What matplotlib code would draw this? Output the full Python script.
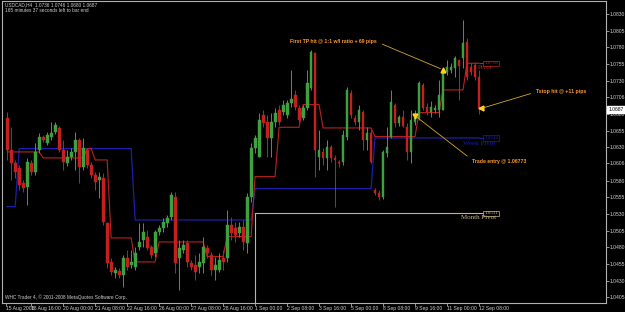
import numpy as np
import matplotlib
matplotlib.use("Agg")
import matplotlib.pyplot as plt
import matplotlib.transforms as mtransforms

# USDCAD H4 candles
opens = [1.0674, 1.0626, 1.0606, 1.0599, 1.0576, 1.0570, 1.0606, 1.0593, 1.0626, 1.0645,
         1.0636, 1.0645, 1.0653, 1.0659, 1.0626, 1.0606, 1.0615, 1.0623, 1.0641, 1.0600,
         1.0626, 1.0603, 1.0588, 1.0581, 1.0584, 1.0516, 1.0458, 1.0441, 1.0444, 1.0438,
         1.0464, 1.0453, 1.0450, 1.0480, 1.0491, 1.0495, 1.0480, 1.0471, 1.0503, 1.0509,
         1.0516, 1.0525, 1.0555, 1.0464, 1.0476, 1.0486, 1.0456, 1.0453, 1.0450, 1.0456,
         1.0479, 1.0468, 1.0446, 1.0446, 1.0464, 1.0464, 1.0513, 1.0509, 1.0502, 1.0510,
         1.0486, 1.0555, 1.0629, 1.0615, 1.0678, 1.0668, 1.0644, 1.0668, 1.0686, 1.0683,
         1.0678, 1.0696, 1.0708, 1.0689, 1.0674, 1.0689, 1.0719, 1.0771, 1.0615, 1.0623,
         1.0614, 1.0630, 1.0614, 1.0608, 1.0608, 1.0645, 1.0711, 1.0674, 1.0668, 1.0683,
         1.0641, 1.0651, 1.0566, 1.0561, 1.0555, 1.0621, 1.0645, 1.0693, 1.0666, 1.0675,
         1.0660, 1.0623, 1.0668, 1.0674, 1.0723, 1.0690, 1.0683, 1.0686, 1.0686, 1.0686,
         1.0743, 1.0746, 1.0749, 1.0761, 1.0764, 1.0788, 1.0750, 1.0753, 1.0736]
highs = [1.0683, 1.0660, 1.0611, 1.0603, 1.0581, 1.0614, 1.0611, 1.0636, 1.0651, 1.0648,
         1.0653, 1.0668, 1.0668, 1.0662, 1.0641, 1.0626, 1.0629, 1.0653, 1.0644, 1.0644,
         1.0629, 1.0608, 1.0593, 1.0593, 1.0591, 1.0518, 1.0464, 1.0450, 1.0449, 1.0468,
         1.0476, 1.0476, 1.0480, 1.0516, 1.0516, 1.0506, 1.0483, 1.0506, 1.0513, 1.0524,
         1.0528, 1.0563, 1.0563, 1.0491, 1.0491, 1.0491, 1.0461, 1.0468, 1.0471, 1.0495,
         1.0483, 1.0473, 1.0465, 1.0471, 1.0476, 1.0536, 1.0525, 1.0518, 1.0518, 1.0521,
         1.0561, 1.0636, 1.0648, 1.0681, 1.0686, 1.0678, 1.0681, 1.0689, 1.0693, 1.0701,
         1.0701, 1.0746, 1.0716, 1.0693, 1.0693, 1.0746, 1.0776, 1.0773, 1.0656, 1.0629,
         1.0641, 1.0633, 1.0618, 1.0611, 1.0656, 1.0720, 1.0716, 1.0678, 1.0693, 1.0686,
         1.0660, 1.0656, 1.0569, 1.0566, 1.0626, 1.0660, 1.0716, 1.0696, 1.0678, 1.0686,
         1.0666, 1.0686, 1.0686, 1.0729, 1.0726, 1.0696, 1.0699, 1.0693, 1.0731, 1.0750,
         1.0761, 1.0756, 1.0767, 1.0761, 1.0821, 1.0794, 1.0756, 1.0758, 1.0746]
lows = [1.0611, 1.0581, 1.0584, 1.0566, 1.0563, 1.0543, 1.0588, 1.0588, 1.0621, 1.0638,
        1.0633, 1.0641, 1.0650, 1.0623, 1.0596, 1.0602, 1.0611, 1.0596, 1.0576, 1.0596,
        1.0599, 1.0584, 1.0566, 1.0554, 1.0513, 1.0449, 1.0438, 1.0434, 1.0434, 1.0420,
        1.0446, 1.0449, 1.0446, 1.0476, 1.0480, 1.0476, 1.0464, 1.0465, 1.0498, 1.0503,
        1.0510, 1.0521, 1.0441, 1.0416, 1.0471, 1.0450, 1.0446, 1.0431, 1.0441, 1.0441,
        1.0464, 1.0438, 1.0431, 1.0443, 1.0446, 1.0458, 1.0491, 1.0488, 1.0495, 1.0476,
        1.0471, 1.0548, 1.0621, 1.0615, 1.0660, 1.0615, 1.0615, 1.0660, 1.0663, 1.0678,
        1.0674, 1.0690, 1.0686, 1.0666, 1.0671, 1.0686, 1.0716, 1.0585, 1.0596, 1.0603,
        1.0596, 1.0608, 1.0540, 1.0600, 1.0603, 1.0641, 1.0674, 1.0663, 1.0656, 1.0626,
        1.0626, 1.0606, 1.0558, 1.0551, 1.0552, 1.0615, 1.0644, 1.0660, 1.0662, 1.0660,
        1.0611, 1.0606, 1.0663, 1.0671, 1.0686, 1.0678, 1.0675, 1.0681, 1.0675, 1.0686,
        1.0738, 1.0741, 1.0735, 1.0701, 1.0749, 1.0731, 1.0738, 1.0731, 1.0680]
closes = [1.0626, 1.0606, 1.0593, 1.0573, 1.0569, 1.0608, 1.0593, 1.0623, 1.0645, 1.0641,
          1.0648, 1.0651, 1.0663, 1.0626, 1.0608, 1.0615, 1.0623, 1.0641, 1.0600, 1.0629,
          1.0603, 1.0588, 1.0578, 1.0585, 1.0518, 1.0456, 1.0443, 1.0446, 1.0438, 1.0464,
          1.0450, 1.0458, 1.0471, 1.0488, 1.0503, 1.0479, 1.0468, 1.0503, 1.0509, 1.0518,
          1.0524, 1.0558, 1.0456, 1.0479, 1.0483, 1.0458, 1.0450, 1.0443, 1.0458, 1.0480,
          1.0471, 1.0446, 1.0453, 1.0461, 1.0458, 1.0513, 1.0502, 1.0498, 1.0510, 1.0488,
          1.0555, 1.0629, 1.0644, 1.0671, 1.0666, 1.0644, 1.0668, 1.0681, 1.0668, 1.0693,
          1.0696, 1.0702, 1.0690, 1.0671, 1.0689, 1.0726, 1.0773, 1.0626, 1.0626, 1.0614,
          1.0630, 1.0614, 1.0611, 1.0606, 1.0648, 1.0716, 1.0678, 1.0668, 1.0686, 1.0641,
          1.0651, 1.0608, 1.0561, 1.0555, 1.0623, 1.0630, 1.0698, 1.0666, 1.0675, 1.0662,
          1.0623, 1.0671, 1.0674, 1.0726, 1.0689, 1.0683, 1.0690, 1.0689, 1.0708, 1.0746,
          1.0750, 1.0750, 1.0764, 1.0752, 1.0786, 1.0735, 1.0743, 1.0735, 1.0687]

# indicator lines as (bars, level) runs
red_runs = [(9, 1.0623), (11, 1.0614), (2, 1.0628), (4, 1.0611), (6, 1.0494), (6, 1.0458),
            (12, 1.0488), (5, 1.0466), (7, 1.0496), (6, 1.0586), (6, 1.0660), (5, 1.0694),
            (13, 1.0659), (11, 1.0646), (6, 1.0682), (6, 1.0716), (4, 1.0756)]
week_runs = [(3, 1.0541), (29, 1.0628), (30, 1.0521), (30, 1.0568), (27, 1.0644)]
month_runs = [(62, 1.0340), (57, 1.0531)]

price_ticks = [1.0830, 1.0805, 1.0780, 1.0755, 1.0730, 1.0706, 1.0680, 1.0655, 1.0630,
               1.0606, 1.0580, 1.0555, 1.0530, 1.0505, 1.0480, 1.0455, 1.0430, 1.0405]
date_tick_bars = [-0.4, 6, 14, 22, 30, 38, 46, 54, 62, 70, 78, 86, 94, 102, 110, 118]
date_labels = ["15 Aug 2008", "18 Aug 16:00", "20 Aug 00:00", "21 Aug 08:00", "22 Aug 16:00",
               "26 Aug 00:00", "27 Aug 08:00", "28 Aug 16:00", "1 Sep 00:00", "2 Sep 08:00",
               "3 Sep 16:00", "5 Sep 00:00", "8 Sep 08:00", "9 Sep 16:00", "11 Sep 00:00",
               "12 Sep 08:00"]

last_price = 1.0687
trade_marks = [(109, 1.07463, "^"), (102, 1.06773, "v"), (118.6, 1.06883, "<")]
notes = ["First TP hit @ 1:1 w/l ratio + 69 pips", "Tstop hit @ +11 pips", "Trade entry @ 1.06773"]
note_pos = [(70.8, 1.0788), (132.3, 1.0713), (116.3, 1.0608)]
note_rel = [(1, 0.5), (0, 0.5), (0, 0.9)]

GREEN = "#3FA03F"
RED = "#C42020"
LINE_RED = "#B82222"
BLUE = "#1E1EAA"
TAN = "#C8B48A"
TXT = "#D0D0D0"
ORANGE = "#FF9A2E"

plt.rcParams["font.family"] = ["Liberation Sans", "DejaVu Sans"]

fig = plt.figure(figsize=(6.25, 3.12), dpi=100, facecolor="black")
ax = fig.add_axes([0.0035, 0.029, 0.966, 0.968], facecolor="black")

o = np.array(opens); h = np.array(highs); l = np.array(lows); c = np.array(closes)
idx = np.arange(len(o))
cols = np.where(c >= o, GREEN, RED)

ax.vlines(idx, l, h, colors=cols, lw=0.7, zorder=3)
body = np.maximum(np.abs(c - o), 0.00008)
ax.bar(idx, body, bottom=np.minimum(o, c), width=0.72, color=cols,
       edgecolor=cols, lw=0.3, zorder=4)


def expand(runs):
    return np.concatenate([np.full(n, v) for n, v in runs])


red_line = expand(red_runs)
week_line = expand(week_runs)
month_line = expand(month_runs)
end = len(idx) + 0.2

ax.plot(idx, week_line, color=BLUE, lw=0.9, zorder=2)
ax.hlines(week_line[-1], idx[-1], end, color=BLUE, lw=0.9, zorder=2)
ax.plot(idx, red_line, color=LINE_RED, lw=0.8, zorder=2)
ax.hlines(red_line[-1], idx[-1], end, color=LINE_RED, lw=0.8, zorder=2)
ax.plot(idx, month_line, color=TAN, lw=0.8, drawstyle="steps-post", zorder=2)
ax.hlines(month_line[-1], idx[-1], end, color=TAN, lw=0.8, zorder=2)

# pivot labels
for val, col, name, nx, dy in [(red_line[-1], LINE_RED, "Pivot", 117.8, -0.0007),
                               (week_line[-1], BLUE, "Week Pivot", 114.0, -0.0008),
                               (month_line[-1], TAN, "Month Pivot", 113.5, -0.0006)]:
    ax.text(end + 0.1, val, f"{val:.4f}", color=col, fontsize=3.6, ha="left", va="center",
            family="Liberation Serif",
            bbox=dict(boxstyle="square,pad=0.15", fc="black", ec=col, lw=0.5), zorder=6)
    ax.text(nx, val + dy, name, color=col, fontsize=5, ha="left", va="center",
            family="Liberation Serif", zorder=6)

# trade markers and notes
for (bx, py, mk) in trade_marks:
    ax.plot(bx, py, marker=mk, color="#FFD21E", markersize=3.5, zorder=7)
for txt, (tx, ty), (bx, py, mk), rp in zip(notes, note_pos, trade_marks[:1] + trade_marks[2:] + trade_marks[1:2], note_rel):
    ax.annotate(txt, xy=(bx, py), xytext=(tx, ty), color=ORANGE, fontsize=3.7,
                fontweight="bold", ha="left", va="center", zorder=8,
                arrowprops=dict(arrowstyle="-", color="#D4A82A", lw=0.6,
                                relpos=rp, shrinkA=2, shrinkB=2))

ax.set_xlim(-1.25, 149.75)
ax.set_ylim(1.03965, 1.08495)

ax.yaxis.tick_right()
ax.set_yticks(price_ticks)
ax.set_yticklabels([f"{v:.4f}" for v in price_ticks])
ax.tick_params(axis="y", direction="out", length=2, width=0.5, pad=1,
               labelsize=3.6, colors=TXT)
ax.set_xticks(date_tick_bars)
ax.set_xticklabels(date_labels)
ax.tick_params(axis="x", direction="out", length=2, width=0.5, pad=0.5,
               labelsize=3.6, colors=TXT)
for lab in ax.get_xticklabels():
    lab.set_horizontalalignment("left")

for sp in ax.spines.values():
    sp.set_color("#B0B0B0")
    sp.set_linewidth(0.8)

# current price box on the axis
trans = mtransforms.blended_transform_factory(ax.transAxes, ax.transData)
ax.text(1.004, last_price, f"{last_price:.4f}", transform=trans, color="black", fontsize=3.6,
        ha="left", va="center", bbox=dict(boxstyle="square,pad=0.2", fc="white", ec="white"),
        zorder=9, clip_on=False)

ax.text(0.005, 0.987, "USDCAD,H4  1.0736 1.0746 1.0680 1.0687", transform=ax.transAxes,
        color=TXT, fontsize=3.4, ha="left", va="center")
ax.text(0.005, 0.967, "165 minutes 37 seconds left to bar end", transform=ax.transAxes,
        color=TXT, fontsize=3.4, ha="left", va="center")
ax.text(0.005, 0.02, "WHC Trader 4, \u00a9 2001-2008 MetaQuotes Software Corp.",
        transform=ax.transAxes, color=TXT, fontsize=3.4, ha="left", va="center")

fig.savefig("out.png", dpi=100, facecolor="black")
